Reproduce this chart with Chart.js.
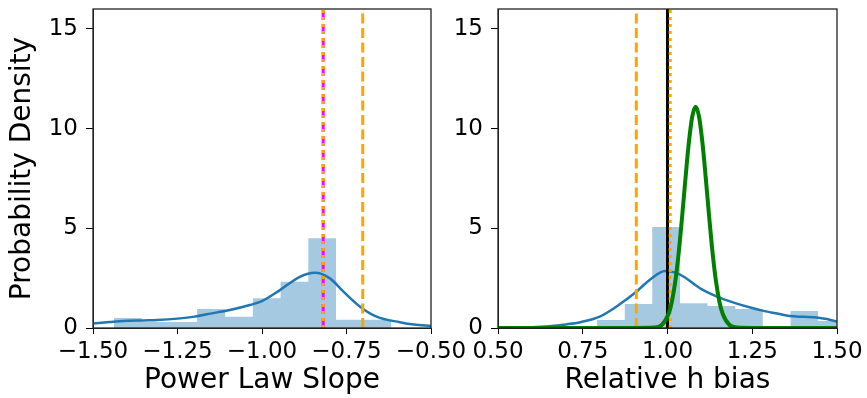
<!DOCTYPE html>
<html>
<head>
<meta charset="utf-8">
<script src="https://cdn.jsdelivr.net/npm/chart.js@4.4.0/dist/chart.umd.min.js"></script>
<style>
  html, body { margin: 0; padding: 0; background: #fff; overflow: hidden; }
  #wrap { position: relative; width: 867px; height: 398px; }
  canvas { position: absolute; left: 0; top: 0; }
</style>
</head>
<body>
<div id="wrap">
  <canvas id="slopeChart" width="900" height="398"></canvas>
  <canvas id="biasChart" width="900" height="398"></canvas>
</div>
<script>
const yTicks = [0, 5, 10, 15];
const slopeTicks = [-1.5, -1.25, -1.0, -0.75, -0.5];
const biasTicks = [0.5, 0.75, 1.0, 1.25, 1.5];

// left panel: power law slope
const slopeBinEdges = [-1.438, -1.356, -1.274, -1.192, -1.109, -1.027, -0.945, -0.863, -0.781, -0.699, -0.617];
const slopeBinHeights = [0.5, 0.3, 0.3, 0.95, 0.57, 1.49, 2.32, 4.5, 0.42, 0.42];
const slopeKdeX = [-1.5, -1.45, -1.41, -1.35, -1.31, -1.25, -1.2, -1.164, -1.095, -1.036, -1.0, -0.947, -0.888, -0.843, -0.799, -0.759, -0.71, -0.661, -0.592, -0.55, -0.5];
const slopeKdeY = [0.23, 0.3, 0.35, 0.38, 0.4, 0.47, 0.57, 0.69, 0.9, 1.15, 1.35, 1.9, 2.57, 2.77, 2.49, 1.82, 1.07, 0.57, 0.29, 0.17, 0.1];
const slopeOrangeDash = -0.702;
const slopeMagentaDash = -0.819;

// right panel: relative h bias
const biasBinEdges = [0.792, 0.874, 0.955, 1.037, 1.118, 1.2, 1.281, 1.363, 1.444, 1.526];
const biasBinHeights = [0.4, 1.2, 5.07, 1.24, 1.1, 0.95, 0, 0.85, 0.35];
const biasKdeX = [0.5, 0.55, 0.6, 0.65, 0.7, 0.743, 0.8, 0.86, 0.908, 0.95, 0.993, 1.037, 1.1, 1.15, 1.2, 1.25, 1.28, 1.33, 1.36, 1.4, 1.44, 1.47, 1.5];
const biasKdeY = [0.01, 0.02, 0.04, 0.09, 0.18, 0.29, 0.57, 1.2, 1.82, 2.45, 2.86, 2.68, 1.95, 1.55, 1.25, 1.0, 0.87, 0.7, 0.6, 0.56, 0.53, 0.45, 0.32];
const biasFitX = [0.5, 0.9, 0.96, 0.983, 1.003, 1.013, 1.023, 1.033, 1.043, 1.053, 1.063, 1.073, 1.083, 1.093, 1.103, 1.113, 1.123, 1.133, 1.143, 1.153, 1.163, 1.183, 1.206, 1.25, 1.5];
const biasFitY = [0, 0, 0.02, 0.15, 0.7, 1.33, 2.34, 3.77, 5.56, 7.5, 9.3, 10.6, 11.1, 10.6, 9.3, 7.5, 5.56, 3.77, 2.34, 1.33, 0.7, 0.15, 0.02, 0, 0];
const biasOrangeDash = 0.908;
const biasTruth = 1.0;
const biasOrangeDot = 1.008;

Chart.defaults.font.family = "'DejaVu Sans', sans-serif";
Chart.defaults.color = "#000";

const histColor = "rgba(31,119,180,0.4)";
const kdeColor = "#1f77b4";

function histPoints(edges, heights) {
  return edges.map((x, i) => ({ x: x, y: i < heights.length ? heights[i] : 0 }));
}
function curvePoints(xs, ys) {
  return xs.map((x, i) => ({ x: x, y: ys[i] }));
}
function vline(x, color, dash, width) {
  return {
    data: [{ x: x, y: 0 }, { x: x, y: 16 }],
    borderColor: color,
    borderWidth: width,
    borderDash: dash,
    pointRadius: 0,
    fill: false,
  };
}
function histSet(edges, heights) {
  return {
    data: histPoints(edges, heights),
    stepped: "before",
    fill: "origin",
    backgroundColor: histColor,
    borderWidth: 0,
    borderColor: "rgba(0,0,0,0)",
    pointRadius: 0,
  };
}
function curveSet(xs, ys, color, width) {
  return {
    data: curvePoints(xs, ys),
    borderColor: color,
    borderWidth: width,
    cubicInterpolationMode: "monotone",
    pointRadius: 0,
    fill: false,
  };
}

const frame = {
  id: "frame",
  afterDraw(chart) {
    const { ctx, chartArea: a } = chart;
    ctx.save();
    ctx.strokeStyle = "#222";
    ctx.lineWidth = 1.3;
    ctx.strokeRect(a.left, a.top, a.right - a.left, a.bottom - a.top);
    ctx.restore();
  },
};

function makeOptions(xTicks, xMin, xMax, xTitle, yWidth, yTitle, padRight) {
  return {
    responsive: false,
    animation: false,
    devicePixelRatio: 1,
    layout: { padding: { left: 0, right: padRight, top: 9, bottom: 0 } },
    plugins: { legend: { display: false }, tooltip: { enabled: false } },
    scales: {
      x: {
        type: "linear",
        min: xMin,
        max: xMax,
        afterBuildTicks: (scale) => {
          scale.ticks = xTicks.map((v) => ({ value: v }));
        },
        afterFit: (scale) => {
          scale.height = 70;
          scale.paddingLeft = 0;
          scale.paddingRight = 0;
        },
        ticks: {
          font: { size: 23 },
          padding: 4,
          maxRotation: 0,
          autoSkip: false,
          callback: (v) => Number(v).toFixed(2).replace("-", "\u2212"),
        },
        grid: { drawOnChartArea: false, drawTicks: true, tickLength: 6, color: "#000" },
        border: { display: true, color: "#222" },
        title: { display: true, text: xTitle, font: { size: 28 }, padding: { top: 0, bottom: 0 } },
      },
      y: {
        type: "linear",
        min: 0,
        max: 16,
        afterBuildTicks: (scale) => {
          scale.ticks = yTicks.map((v) => ({ value: v }));
        },
        afterFit: (scale) => {
          scale.width = yWidth;
          scale.paddingTop = 0;
          scale.paddingBottom = 0;
        },
        ticks: { font: { size: 23 }, padding: 8 },
        grid: { drawOnChartArea: false, drawTicks: true, tickLength: 7, color: "#000" },
        border: { display: true, color: "#222" },
        title: { display: yTitle !== "", text: yTitle, font: { size: 28 }, padding: { top: 6, bottom: 0 } },
      },
    },
  };
}

new Chart(document.getElementById("slopeChart"), {
  type: "line",
  data: {
    datasets: [
      vline(slopeMagentaDash, "orange", [3, 4], 3),
      vline(slopeMagentaDash, "#ff00ff", [10, 4], 3),
      vline(slopeOrangeDash, "orange", [10, 4.5], 3),
      curveSet(slopeKdeX, slopeKdeY, kdeColor, 2.5),
      histSet(slopeBinEdges, slopeBinHeights),
    ],
  },
  options: makeOptions(slopeTicks, -1.5, -0.5, "Power Law Slope", 93, "Probability Density", 900 - 431),
  plugins: [frame],
});

new Chart(document.getElementById("biasChart"), {
  type: "line",
  data: {
    datasets: [
      curveSet(biasFitX, biasFitY, "green", 4),
      vline(biasOrangeDot, "orange", [3, 4], 3),
      vline(biasTruth, "#000", [], 3),
      vline(biasOrangeDash, "orange", [10, 4.5], 3),
      curveSet(biasKdeX, biasKdeY, kdeColor, 2.5),
      histSet(biasBinEdges, biasBinHeights),
    ],
  },
  options: makeOptions(biasTicks, 0.5, 1.5, "Relative h bias", 498, "", 900 - 837),
  plugins: [frame],
});
</script>
</body>
</html>
